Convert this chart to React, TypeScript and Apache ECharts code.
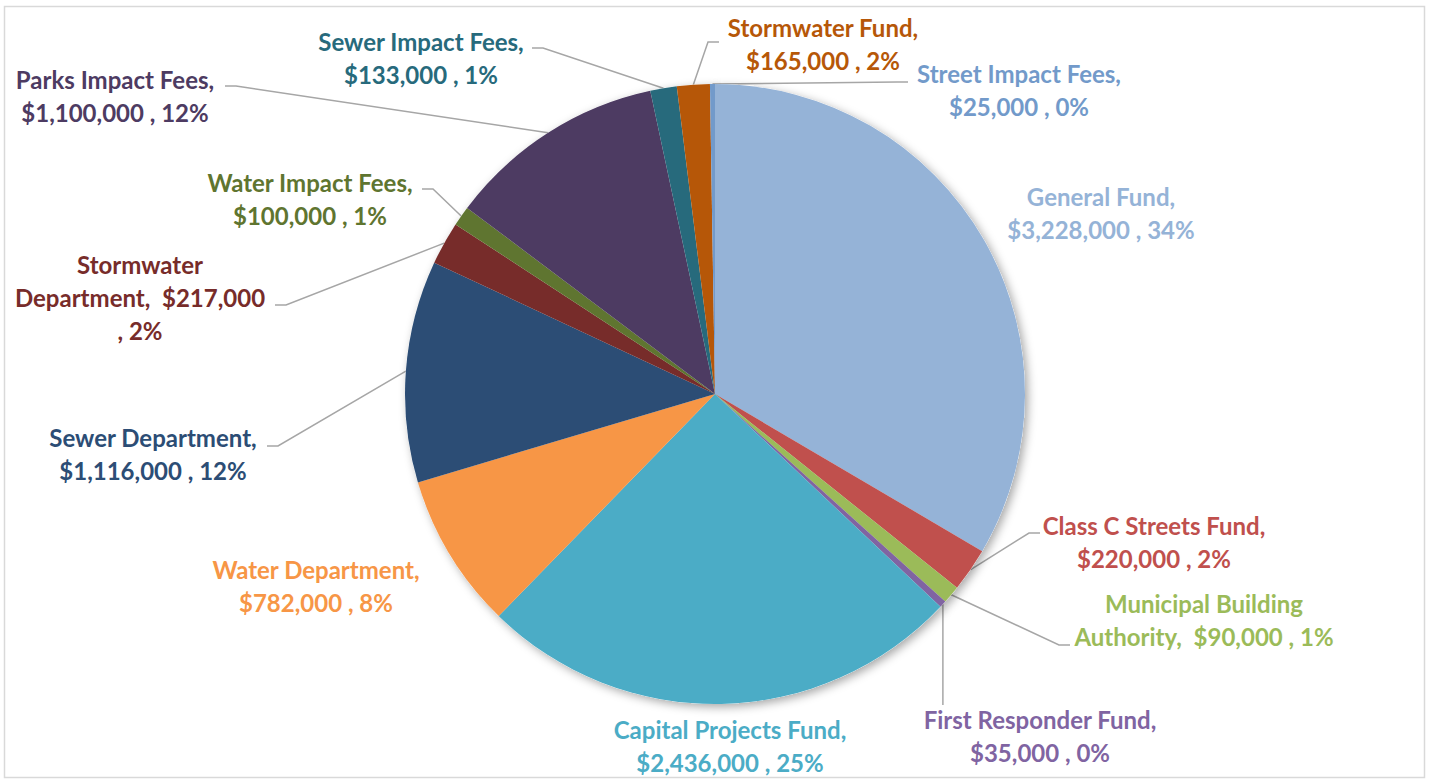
import React, { useEffect, useRef } from "react";
import * as echarts from "echarts";

const categories = [
  "General Fund",
  "Class C Streets Fund",
  "Municipal Building Authority",
  "First Responder Fund",
  "Capital Projects Fund",
  "Water Department",
  "Sewer Department",
  "Stormwater Department",
  "Water Impact Fees",
  "Parks Impact Fees",
  "Sewer Impact Fees",
  "Stormwater Fund",
  "Street Impact Fees",
];
const values = [3228000, 220000, 90000, 35000, 2436000, 782000, 1116000, 217000, 100000, 1100000, 133000, 165000, 25000];
const percents = [34, 2, 1, 0, 25, 8, 12, 2, 1, 12, 1, 2, 0];
const colors = [
  "#95B3D7", "#C0504D", "#9BBB59", "#8064A2", "#4BACC6", "#F79646", "#2C4D75",
  "#772C2A", "#5F7530", "#4D3B62", "#276A7C", "#B65708", "#729ACA",
];
// label name text (with line breaks as in the picture)
const labelNames = [
  "General Fund",
  "Class C Streets Fund",
  "Municipal Building\nAuthority",
  "First Responder Fund",
  "Capital Projects Fund",
  "Water Department",
  "Sewer Department",
  "Stormwater\nDepartment",
  "Water Impact Fees",
  "Parks Impact Fees",
  "Sewer Impact Fees",
  "Stormwater Fund",
  "Street Impact Fees",
];
const valueSeparators = [",\n", ",\n", ",  ", ",\n", ",\n", ",\n", ",\n", ",  ", ",\n", ",\n", ",\n", ",\n", ",\n"];
const percentSeparators = [" , ", " , ", " , ", " , ", " , ", " , ", " , ", "\n, ", " , ", " , ", " , ", " , ", " , "];
const showLeader = [false, true, true, true, false, false, true, true, true, true, true, true, true];
// label centre positions (layout)
const labelCenters = [
  [1101, 213], [1154, 542], [1204, 620], [1040, 736], [730, 746], [316, 586], [153, 454],
  [140, 297], [310, 199], [115, 96], [421, 58], [823, 44], [1019, 90],
];
// leader line end (at the label) and direction of its short horizontal segment
// dir -1: segment to the left of end, +1: to the right, 0: vertical from slice
const leaderEnds: (number | null)[][] = [
  [null, null, 0], [1040, 533, -1], [1070, 645, -1], [null, 705, 0], [null, null, 0], [null, null, 0],
  [267, 446, 1], [275, 305, 1], [422, 189, 1], [225, 86, 1], [532, 48, 1], [719, 42, -1], [908, 82, -1],
];

const fmt = (v: number) => "$" + v.toLocaleString("en-US");

export default function App() {
  const ref = useRef<HTMLDivElement>(null);
  useEffect(() => {
    document.body.style.margin = "0";
    const chart = echarts.init(ref.current!, null, { renderer: "svg" });
    const data = categories.map((name, i) => ({
      name,
      value: values[i],
      itemStyle: { color: colors[i] },
      label: { color: colors[i] },
      labelLine: { show: showLeader[i] },
    }));
    chart.setOption({
      animation: false,
      backgroundColor: "#ffffff",
      graphic: [
        {
          type: "rect",
          silent: true,
          z: -10,
          shape: { x: 4.5, y: 6.5, width: 1420, height: 771 },
          style: { fill: "none", stroke: "#D9D9D9", lineWidth: 1.5 },
        },
      ],
      series: [
        {
          type: "pie",
          silent: true,
          center: [715, 394],
          radius: 310,
          startAngle: 90,
          clockwise: true,
          label: { show: false },
          labelLine: { show: false },
          itemStyle: {
            color: "#ffffff",
            shadowBlur: 10,
            shadowColor: "rgba(0,0,0,0.35)",
            shadowOffsetX: 3,
            shadowOffsetY: 3,
          },
          data: categories.map((name, i) => ({ name, value: values[i] })),
        },
        {
          type: "pie",
          center: [715, 394],
          radius: 310,
          startAngle: 90,
          clockwise: true,
          avoidLabelOverlap: false,
          itemStyle: { borderWidth: 0 },
          label: {
            show: true,
            position: "outside",
            fontFamily: "Lato",
            fontWeight: "bold",
            fontSize: 24,
            lineHeight: 33,
            align: "center",
            formatter: (p: any) => {
              const i = p.dataIndex;
              return labelNames[i] + valueSeparators[i] + fmt(values[i]) + percentSeparators[i] + percents[i] + "%";
            },
          },
          labelLine: {
            show: true,
            length: 10,
            length2: 12,
            smooth: false,
            lineStyle: { color: "#A6A6A6", width: 1.5 },
          },
          labelLayout: (p: any) => {
            const i = p.dataIndex;
            const c = labelCenters[i];
            const res: any = { x: c[0], y: c[1], align: "center", verticalAlign: "middle" };
            const pts = p.labelLinePoints;
            const e = leaderEnds[i];
            if (showLeader[i] && pts && pts[0]) {
              const start = pts[0];
              if (e[2] === 0) {
                res.labelLinePoints = [[start[0], start[1]], [start[0], e[1]], [start[0], e[1]]];
              } else {
                const ex = e[0] as number;
                const ey = e[1] as number;
                const dir = e[2] as number;
                res.labelLinePoints = [[start[0], start[1]], [ex + dir * 11, ey], [ex, ey]];
              }
            }
            return res;
          },
          data,
        },
      ],
    });
    return () => chart.dispose();
  }, []);
  return <div ref={ref} style={{ width: 1432, height: 783 }} />;
}
